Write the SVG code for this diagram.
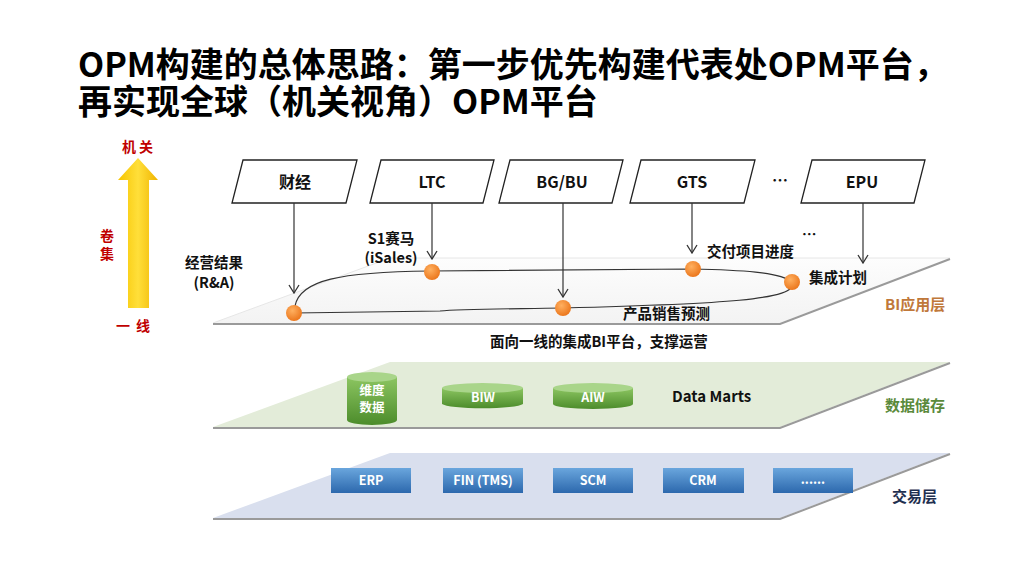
<svg xmlns="http://www.w3.org/2000/svg" width="1024" height="576" viewBox="0 0 1024 576">
<defs>
<style>
.t{font-family:"Noto Sans CJK SC","Liberation Sans",sans-serif;font-weight:bold;}
.title{font-size:34px;fill:#000;}
.box{fill:#fff;stroke:#222;stroke-width:1.3;}
.bl{font-size:16px;fill:#111;text-anchor:middle;}
.lb{font-size:14.5px;fill:#111;}
.ly{font-size:15px;}
.red{font-size:14px;fill:#c00000;text-anchor:middle;}
.conn{stroke:#333;stroke-width:1.2;fill:none;}
.ball{fill:url(#og);}
.cyl{font-size:12.5px;fill:#fff;text-anchor:middle;}
.bx{fill:url(#bg);}
.bxt{font-size:12.5px;fill:#fff;text-anchor:middle;}
</style>
<marker id="ah" viewBox="0 0 12 12" refX="11" refY="6" markerWidth="12" markerHeight="12" markerUnits="userSpaceOnUse" orient="auto">
<polyline points="3,1 11,6 3,11" fill="none" stroke="#333" stroke-width="1.3"/>
</marker>
<linearGradient id="yg" x1="0" y1="0" x2="1" y2="0">
<stop offset="0" stop-color="#f6c400"/><stop offset="0.5" stop-color="#ffdf3a"/><stop offset="1" stop-color="#f0b400"/>
</linearGradient>
<radialGradient id="og" cx="0.4" cy="0.35" r="0.7">
<stop offset="0" stop-color="#ffb060"/><stop offset="1" stop-color="#ea7318"/>
</radialGradient>
<linearGradient id="gg" x1="0" y1="0" x2="0" y2="1">
<stop offset="0" stop-color="#8cc561"/><stop offset="1" stop-color="#4c8c2b"/>
</linearGradient>
<linearGradient id="bg" x1="0" y1="0" x2="0" y2="1">
<stop offset="0" stop-color="#6aa6dd"/><stop offset="1" stop-color="#2c68ad"/>
</linearGradient>
<linearGradient id="wl" x1="0" y1="0" x2="0" y2="1">
<stop offset="0" stop-color="#fdfdfd"/><stop offset="1" stop-color="#f3f3f3"/>
</linearGradient>
</defs>
<rect width="1024" height="576" fill="#fff"/>
<g id="title">
<text class="t title" x="78" y="77">OPM构建的总体思路：第一步优先构建代表处OPM平台，</text>
<text class="t title" x="78" y="114">再实现全球（机关视角）OPM平台</text>
</g>
<g id="axis">
<polygon points="128,180 118,180 138,158 158,180 149,180 149,308 128,308" fill="url(#yg)"/>
<text class="t red" x="139" y="152" letter-spacing="3">机关</text>
<text class="t red" x="107" y="241">卷</text>
<text class="t red" x="107" y="259">集</text>
<text class="t red" x="136" y="331" letter-spacing="6">一线</text>
</g>
<g id="layer-bi">
<polygon points="390,258 950,258 780,323 213,323" fill="url(#wl)"/>
<polyline points="213,323 390,258 950,258" fill="none" stroke="#e6e6e6" stroke-width="1"/>
<polyline points="213,324 780,324 950,259" fill="none" stroke="#9a9a9a" stroke-width="2"/>
<text class="t ly" x="885" y="310" style="fill:#c0783a">BI应用层</text>
</g>
<g id="layer-data">
<polygon points="390,362 950,362 780,427 213,427" fill="#e3ecd9"/>
<polyline points="213,428 780,428 950,363" fill="none" stroke="#9a9a9a" stroke-width="2"/>
<text class="t ly" x="885" y="411" style="fill:#5b8a3c">数据储存</text>
</g>
<g id="layer-trans">
<polygon points="390,453 950,453 780,518 213,518" fill="#d9dfee"/>
<polyline points="213,519 780,519 950,454" fill="none" stroke="#9a9a9a" stroke-width="2"/>
<text class="t ly" x="892" y="502" style="fill:#1f3050">交易层</text>
</g>
<g id="node-caijing">
<polygon class="box" points="243,160 357,160 346,203 232,203"/>
<text class="t bl" x="295" y="188">财经</text>
</g>
<g id="node-ltc">
<polygon class="box" points="381,160 494,160 483,203 370,203"/>
<text class="t bl" x="432" y="188">LTC</text>
</g>
<g id="node-bgbu">
<polygon class="box" points="510,160 623,160 612,203 499,203"/>
<text class="t bl" x="562" y="188">BG/BU</text>
</g>
<g id="node-gts">
<polygon class="box" points="641,160 755,160 744,203 630,203"/>
<text class="t bl" x="692" y="188">GTS</text>
</g>
<text class="t bl" x="780" y="186">…</text>
<g id="node-epu">
<polygon class="box" points="812,160 925,160 914,203 801,203"/>
<text class="t bl" x="862" y="188">EPU</text>
</g>
<g id="connectors">
<line class="conn" x1="294" y1="203" x2="294" y2="293" marker-end="url(#ah)"/>
<line class="conn" x1="432" y1="203" x2="432" y2="259" marker-end="url(#ah)"/>
<line class="conn" x1="563" y1="203" x2="563" y2="297" marker-end="url(#ah)"/>
<line class="conn" x1="692" y1="203" x2="692" y2="253" marker-end="url(#ah)"/>
<line class="conn" x1="863" y1="203" x2="863" y2="263" marker-end="url(#ah)"/>
<path class="conn" stroke-width="1" d="M295,306 C300,280 340,272 430,271 L692,269 C740,270 780,272 792,282 C800,300 720,304 563,308 C500,309 460,309 440,311 L294,313"/>
</g>
<g id="bi-items">
<circle class="ball" cx="294" cy="313" r="8"/>
<circle class="ball" cx="432" cy="272" r="8"/>
<circle class="ball" cx="563" cy="308" r="8"/>
<circle class="ball" cx="693" cy="269" r="8"/>
<circle class="ball" cx="792" cy="282" r="8"/>
<text class="t lb" x="214" y="268" text-anchor="middle">经营结果</text>
<text class="t lb" x="214" y="288" text-anchor="middle">(R&amp;A)</text>
<text class="t lb" x="391" y="244" text-anchor="middle">S1赛马</text>
<text class="t lb" x="391" y="263" text-anchor="middle">(iSales)</text>
<text class="t lb" x="707" y="257">交付项目进度</text>
<text class="t lb" x="802" y="240">…</text>
<text class="t lb" x="809" y="283">集成计划</text>
<text class="t lb" x="623" y="319">产品销售预测</text>
<text class="t lb" x="490" y="347">面向一线的集成BI平台，支撑运营</text>
</g>
<g id="node-weidu">
<path d="M347,377 L347,420 A25,5 0 0 0 397,420 L397,377 Z" fill="url(#gg)"/>
<ellipse cx="372" cy="377" rx="25" ry="5" fill="#a9d58a"/>
<text class="t cyl" x="372" y="395">维度</text>
<text class="t cyl" x="372" y="412">数据</text>
</g>
<g id="node-biw">
<path d="M442,388 L442,404 A41,5 0 0 0 523,404 L523,388 Z" fill="url(#gg)"/>
<ellipse cx="482.5" cy="388" rx="40.5" ry="5" fill="#a9d58a"/>
<text class="t cyl" x="483" y="402">BIW</text>
</g>
<g id="node-aiw">
<path d="M553,388 L553,404 A40,5 0 0 0 633,404 L633,388 Z" fill="url(#gg)"/>
<ellipse cx="593" cy="388" rx="40" ry="5" fill="#a9d58a"/>
<text class="t cyl" x="593" y="402">AIW</text>
</g>
<g id="node-datamarts">
<text class="t" x="672" y="402" style="font-size:15px;fill:#111">Data Marts</text>
</g>
<g id="node-erp"><rect class="bx" x="331" y="468" width="80" height="25"/><text class="t bxt" x="371" y="485">ERP</text></g>
<g id="node-fin"><rect class="bx" x="443" y="468" width="80" height="25"/><text class="t bxt" x="483" y="485">FIN (TMS)</text></g>
<g id="node-scm"><rect class="bx" x="553" y="468" width="80" height="25"/><text class="t bxt" x="593" y="485">SCM</text></g>
<g id="node-crm"><rect class="bx" x="663" y="468" width="81" height="25"/><text class="t bxt" x="703" y="485">CRM</text></g>
<g id="node-more"><rect class="bx" x="773" y="468" width="80" height="25"/><text class="t bxt" x="813" y="484">......</text></g>
</svg>
